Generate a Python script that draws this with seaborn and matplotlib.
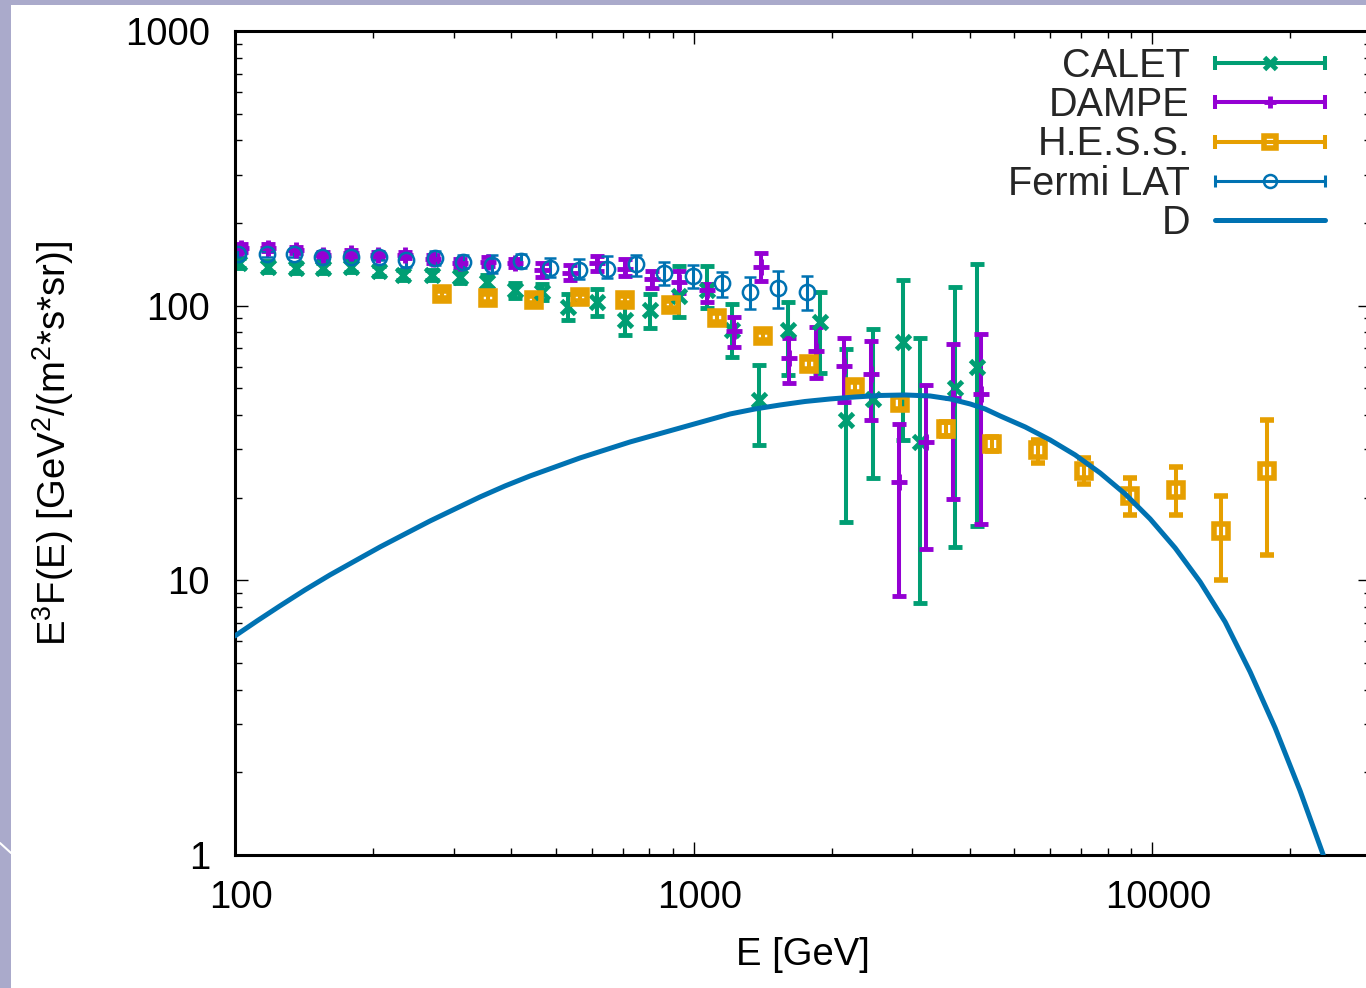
import numpy as np
import pandas as pd
import matplotlib
matplotlib.use("Agg")
from matplotlib import pyplot as plt
from matplotlib.lines import Line2D
from matplotlib.patches import Rectangle
from matplotlib.transforms import ScaledTranslation
from matplotlib.legend_handler import HandlerLine2D, HandlerTuple
from matplotlib.ticker import LogLocator, FuncFormatter, NullFormatter
import seaborn as sns

# CALET (E [GeV], E^3 F, lower, upper)
calet_E = [102.0, 118.0, 135.7, 155.4, 178.7, 205.6, 233.0, 269.4, 309.9, 354.8,
           408.2, 467.3, 532.2, 615.3, 707.9, 802.4, 927.8, 1067, 1215, 1392,
           1609, 1889, 2151, 2462, 2861, 3116, 3712, 4144]
calet_F = [142.7, 138.7, 136.8, 136.8, 138.7, 133.8, 129.4, 129.4, 127.5, 122.3,
           114.1, 112.5, 99.2, 103.4, 88.7, 96.4, 108.5, 114.1, 81.5, 45.4,
           81.5, 87.3, 38.4, 45.7, 73.8, 31.9, 50.2, 59.8]
calet_lo = [137, 133, 131, 131, 133, 128, 124, 124, 121, 116,
            107, 105, 89, 92, 78, 83, 91, 98, 65, 31,
            56, 57, 16.3, 23.6, 32.4, 8.3, 13.2, 15.8]
calet_hi = [149, 145, 143, 143, 145, 140, 135, 135, 134, 129,
            121, 120, 110, 115, 100, 110, 140, 139, 101, 61,
            103, 112, 69.6, 82.3, 124, 76.3, 117, 141.9]

# DAMPE
dampe_E = [103.0, 118.2, 135.7, 155.7, 178.6, 205.0, 235.2, 269.9, 309.7, 355.3,
           407.7, 468.0, 537.0, 616.2, 707.1, 811.3, 930.8, 1068, 1226, 1406,
           1614, 1852, 2125, 2438, 2798, 3210, 3683, 4227]
dampe_F = [161.8, 162.5, 159.5, 153.0, 155.1, 153.0, 153.0, 147.9, 142.7, 144.6,
           142.7, 134.9, 131.2, 142.7, 135.7, 124.8, 122.3, 114.1, 81.1, 138.7,
           64.5, 68.4, 60.3, 56.4, 22.8, 31.9, 46.1, 47.7]
dampe_lo = [157, 158, 155, 149, 151, 149, 149, 143, 138, 140,
            138, 127.5, 124, 133.2, 128.3, 116, 111.2, 103, 71, 123,
            52.3, 54.5, 44.6, 38.4, 8.8, 13.0, 19.8, 16.0]
dampe_hi = [167, 167, 164, 157, 159, 157, 157, 153, 148, 150,
            148, 142.7, 140.7, 151.6, 147.7, 133.2, 133.2, 120, 91, 155.4,
            76, 83.5, 76.3, 74.6, 37.1, 51.4, 72.5, 78.9]

# H.E.S.S.
hess_E = [283, 356, 448, 564, 710, 893, 1125, 1416, 1783, 2244,
          2825, 3557, 4477, 5637, 7096, 8934, 11247, 14159, 17825]
hess_F = [110, 106.4, 104.9, 107.3, 104.9, 100.8, 90.4, 77.6, 61.3, 50.6,
          44.2, 35.6, 31.4, 29.8, 25.0, 20.3, 21.3, 15.1, 25.0]
hess_lo = [107, 103, 102, 104, 102, 98, 87, 75, 59, 48.5,
           42, 33.5, 29.5, 26.8, 22.4, 17.3, 17.3, 10.0, 12.4]
hess_hi = [113, 110, 108, 110, 108, 104, 94, 80, 64, 52.7,
           46.5, 37.7, 33.3, 32.4, 28.0, 23.6, 25.8, 20.3, 38.2]

# Fermi LAT
fermi_E = [101.5, 117.4, 134.4, 154.6, 178.7, 205.6, 236.5, 273.5, 314.6, 363.9,
           420.6, 486.4, 562.3, 647.0, 747.9, 860.6, 995, 1151, 1330, 1530, 1769]
fermi_F = [153.9, 153.9, 153.9, 150.4, 150.4, 150.4, 146.7, 149.4, 144.6, 140.7,
           145.3, 136.8, 134.9, 135.8, 141.8, 131.2, 128.3, 120.8, 112.5, 116.3, 112.5]
fermi_lo = [150, 150, 150, 146.5, 146.5, 146.5, 138.7, 140.7, 137, 131,
            137.3, 127, 125, 126, 128, 119, 115.7, 107.6, 97.4, 98.1, 96.4]
fermi_hi = [158, 158, 158, 154.5, 154.5, 154.5, 154, 158, 153, 153,
            154.2, 148.6, 147.7, 151.6, 153, 144.6, 141, 132.4, 126.9, 134.1, 128.3]

# model curve D
d_E = [100, 111.7, 125.3, 142.1, 161.1, 182.7, 207.2, 234.9, 266.4, 301.9,
       342.3, 388.1, 440.0, 498.9, 565.6, 641.2, 727.0, 824.2, 934.5, 1059.5,
       1201.3, 1361.9, 1544.2, 1750.7, 1984.8, 2250.3, 2551.2, 2892.5, 3279.4, 3626.3,
       4009.9, 4323.8, 4661.6, 5284.7, 5991.5, 6792.6, 7701.3, 8731.0, 9900.0, 11223,
       12724, 14425, 16355, 18543, 21023, 23609]
d_F = [6.277, 7.115, 8.070, 9.228, 10.464, 11.770, 13.232, 14.756, 16.455, 18.196,
       20.120, 22.064, 23.990, 25.870, 27.905, 29.836, 31.904, 33.831, 35.874, 38.041,
       40.336, 42.064, 43.496, 44.790, 45.740, 46.513, 47.100, 47.298, 46.903, 45.740,
       43.861, 42.064, 39.667, 36.176, 32.443, 28.61, 24.60, 20.63, 16.73, 13.12,
       9.87, 7.056, 4.640, 2.902, 1.711, 1.000]

FS = 27.5
LEG_FS = 28.5

sns.set_theme(style="ticks")
plt.rcParams['font.family'] = ['Liberation Sans', 'DejaVu Sans']
plt.rcParams['mathtext.fontset'] = 'custom'
plt.rcParams['mathtext.rm'] = 'Liberation Sans'
plt.rcParams['mathtext.it'] = 'Liberation Sans:italic'
plt.rcParams['mathtext.bf'] = 'Liberation Sans:bold'

fig = plt.figure(figsize=(13.66, 9.88), dpi=100, facecolor='#aaaacb')
fig.add_artist(Rectangle((11 / 1366, 0), 1, 983 / 988, transform=fig.transFigure,
                         facecolor='white', edgecolor='none', zorder=-5))
fig.add_artist(Line2D([0, 11 / 1366], [145 / 988, 135 / 988], transform=fig.transFigure,
                      color='white', lw=1.5, zorder=-4))
ax = fig.add_axes([0.17204, 0.13462, 0.8316, 0.83401])
ax.set_xscale('log')
ax.set_yscale('log')

# (name, E, F, lo, hi, color, marker, ms, mew, lw, capsize)
series = [
    ("CALET", calet_E, calet_F, calet_lo, calet_hi, '#009e73', 'x', 10, 3.5, 2.9, 5),
    ("DAMPE", dampe_E, dampe_F, dampe_lo, dampe_hi, '#9400d3', '+', 11, 3.5, 2.9, 5),
    ("H.E.S.S.", hess_E, hess_F, hess_lo, hess_hi, '#e69f00', 's', 9.5, 4.0, 2.9, 5),
    ("Fermi LAT", fermi_E, fermi_F, fermi_lo, fermi_hi, '#0072b2', 'o', 11, 1.8, 2.2, 4.3),
]

handles, labels, hmap = [], [], {}
for name, E, F, lo, hi, col, mk, ms, mew, lw, cap in series:
    F = np.array(F)
    yerr = [F - np.array(lo), np.array(hi) - F]
    ax.errorbar(E, F, yerr=yerr, fmt=mk, color=col, ms=ms, mew=mew, mfc='none',
                elinewidth=lw, capsize=cap, capthick=lw)
    main = Line2D([], [], color=col, lw=lw, marker=mk, ms=ms * 0.85, mew=mew, mfc='none')
    caps = Line2D([], [], color=col, ls='none', marker='|', ms=2 * cap, mew=lw)
    hmap[caps] = HandlerLine2D(numpoints=2, marker_pad=0)
    handles.append((main, caps))
    labels.append(name)

df_d = pd.DataFrame({"E": d_E, "F": d_F})
sns.lineplot(data=df_d, x="E", y="F", ax=ax, color='#0072b2', lw=3.6, zorder=5, sort=False)
handles.append(Line2D([], [], color='#0072b2', lw=3.6))
labels.append("D")

ax.set_xlim(100, 30000)
ax.set_ylim(1, 1000)

ax.set_xticks([100, 1000, 10000])
ax.set_yticks([1, 10, 100, 1000])
for a in (ax.xaxis, ax.yaxis):
    a.set_minor_locator(LogLocator(base=10, subs=np.arange(2, 10), numticks=30))
    a.set_major_formatter(FuncFormatter(lambda v, p: f"{v:g}"))
    a.set_minor_formatter(NullFormatter())

ax.tick_params(which='both', direction='in', top=True, right=True, color='black',
               width=1.0, labelsize=FS, labelcolor='black')
ax.tick_params(which='major', length=9.5, pad=18)
ax.tick_params(which='minor', length=4.7)
for s in ax.spines.values():
    s.set_color('black')
    s.set_linewidth(2.2)

# gnuplot puts the x tick labels a few pixels right of the tick
shift = ScaledTranslation(0.06, 0, fig.dpi_scale_trans)
for lab in ax.get_xticklabels():
    lab.set_transform(lab.get_transform() + shift)

ax.set_xlabel("E [GeV]", fontsize=FS, color='black')
ax.set_ylabel(r"E$^3$F(E) [GeV$^2$/(m$^2$*s*sr)]", fontsize=FS, color='black')
ax.xaxis.set_label_coords(0.5, -0.10)
ax.yaxis.set_label_coords(-0.140, 0.5)

hmap[tuple] = HandlerTuple(ndivide=1, pad=0)
ax.legend(handles, labels, loc='upper right', bbox_to_anchor=(0.9595, 0.9806),
          frameon=False, markerfirst=False, numpoints=1, handlelength=2.78,
          handletextpad=0.63, labelspacing=0.03, borderpad=0, borderaxespad=0,
          fontsize=LEG_FS, handler_map=hmap)

fig.savefig("out.png", dpi=100, facecolor=fig.get_facecolor())
